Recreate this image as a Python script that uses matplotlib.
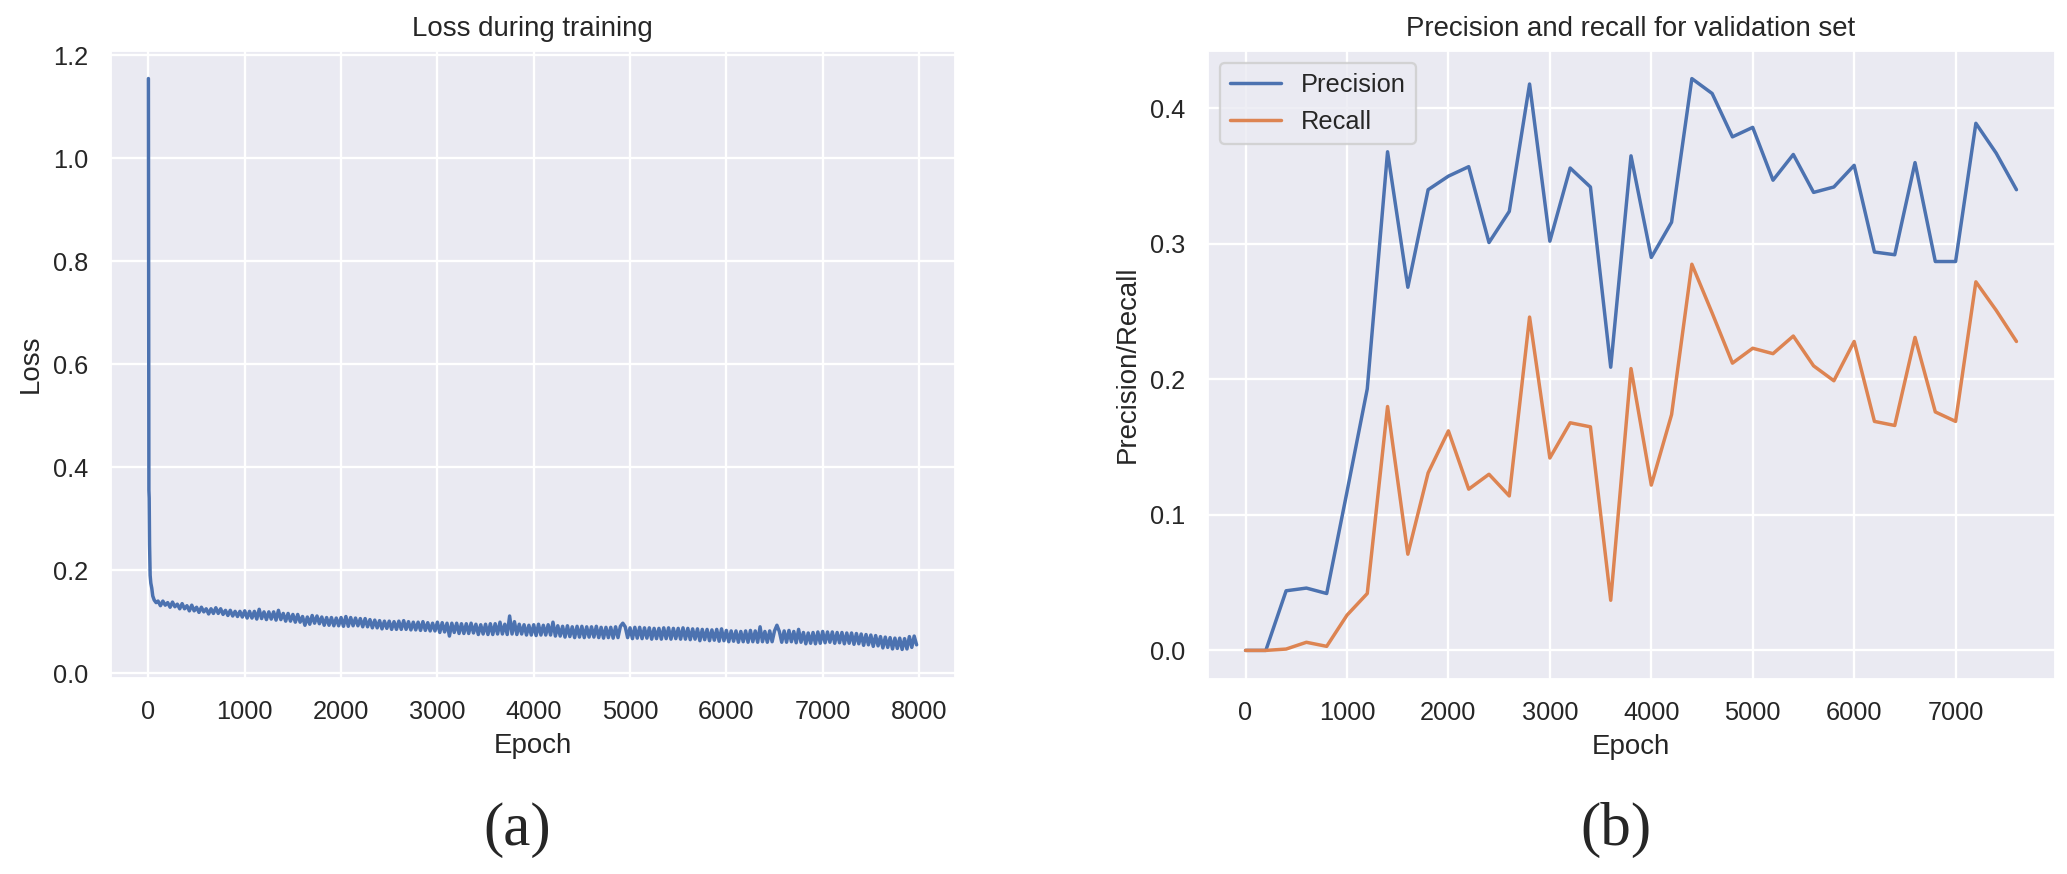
import matplotlib
matplotlib.use('Agg')
import matplotlib.pyplot as plt
import seaborn as sns

# ---- data ----
# (a) training loss: steep drop at the start, then a noisy slow decline
loss_epochs = [0, 3, 5, 8, 12, 18, 25, 35, 45, 60, 80] + list(range(100, 8000, 25))
loss_values = [
    1.155, 0.600, 0.355, 0.340, 0.250, 0.190, 0.175, 0.165, 0.150, 0.142, 0.137,
    .140, .131, .140, .132, .137, .128, .138, .129, .134, .125, .135, .125,
    .131, .121, .132, .121, .128, .118, .128, .119, .125, .115, .125, .116,
    .127, .116, .125, .114, .122, .112, .122, .111, .120, .110, .120, .109,
    .121, .107, .120, .107, .120, .105, .124, .106, .119, .104, .119, .105,
    .119, .103, .122, .104, .116, .101, .116, .101, .114, .099, .114, .099,
    .110, .093, .109, .095, .112, .097, .111, .096, .109, .093, .108, .093,
    .108, .092, .107, .092, .108, .091, .110, .091, .108, .092, .107, .092,
    .106, .090, .106, .090, .104, .088, .103, .088, .102, .086, .101, .087,
    .101, .085, .100, .085, .101, .085, .102, .085, .100, .084, .099, .084,
    .099, .083, .100, .083, .098, .082, .097, .082, .099, .079, .098, .080,
    .097, .072, .097, .079, .097, .077, .096, .077, .096, .077, .097, .078,
    .095, .075, .094, .076, .095, .075, .096, .075, .096, .076, .099, .076,
    .095, .075, .111, .076, .100, .075, .095, .076, .094, .074, .093, .074,
    .094, .073, .095, .074, .093, .074, .094, .074, .099, .072, .092, .072,
    .091, .070, .092, .071, .090, .069, .091, .070, .091, .069, .090, .070,
    .090, .070, .091, .069, .089, .068, .089, .069, .089, .068, .090, .069,
    .091, .097, .090, .069, .088, .067, .089, .068, .089, .067, .088, .068,
    .088, .066, .087, .067, .087, .066, .088, .067, .088, .066, .087, .067,
    .087, .066, .088, .066, .087, .065, .086, .066, .086, .063, .085, .065,
    .085, .063, .084, .064, .085, .062, .086, .063, .083, .061, .082, .062,
    .082, .060, .081, .061, .082, .060, .083, .061, .082, .060, .090, .061,
    .081, .060, .082, .061, .082, .093, .081, .060, .082, .060, .083, .061,
    .081, .059, .085, .060, .079, .057, .078, .058, .079, .057, .080, .058,
    .081, .059, .080, .060, .080, .058, .079, .059, .079, .057, .078, .058,
    .078, .056, .077, .057, .076, .054, .075, .055, .074, .052, .073, .053,
    .071, .049, .070, .050, .069, .047, .068, .048, .068, .046, .067, .047,
    .071, .050, .072, .055,
]

# (b) validation precision / recall, evaluated every 200 epochs
val_epochs = list(range(0, 7800, 200))
precision = [0.000, 0.000, 0.044, 0.046, 0.042, 0.117, 0.193, 0.368, 0.268, 0.340,
             0.350, 0.357, 0.301, 0.324, 0.418, 0.302, 0.356, 0.342, 0.209, 0.365,
             0.290, 0.316, 0.422, 0.411, 0.379, 0.386, 0.347, 0.366, 0.338, 0.342,
             0.358, 0.294, 0.292, 0.360, 0.287, 0.287, 0.389, 0.367, 0.340]
recall = [0.000, 0.000, 0.001, 0.006, 0.003, 0.026, 0.042, 0.180, 0.071, 0.131,
          0.162, 0.119, 0.130, 0.114, 0.246, 0.142, 0.168, 0.165, 0.037, 0.208,
          0.122, 0.174, 0.285, 0.249, 0.212, 0.223, 0.219, 0.232, 0.210, 0.199,
          0.228, 0.169, 0.166, 0.231, 0.176, 0.169, 0.272, 0.251, 0.228]

# ---- style: plain seaborn notebook look, rendered at a high dpi ----
sns.set_theme(style='darkgrid')
plt.rcParams['font.family'] = ['Liberation Sans', 'DejaVu Sans']

W, H = 2067, 874
DPI = 166
fig = plt.figure(figsize=(W / DPI, H / DPI), dpi=DPI)


def box(left, right, top, bottom):
    # pixel edges -> figure fraction
    return [left / W, 1 - bottom / H, (right - left) / W, (bottom - top) / H]


ax1 = fig.add_axes(box(110, 955, 50, 678))
ax2 = fig.add_axes(box(1207, 2055, 50, 679))

# left: loss
ax1.plot(loss_epochs, loss_values, color='#4C72B0')
ax1.set_title("Loss during training")
ax1.set_xlabel("Epoch")
ax1.set_ylabel("Loss")

# right: precision / recall
ax2.plot(val_epochs, precision, color='#4C72B0', label='Precision')
ax2.plot(val_epochs, recall, color='#DD8452', label='Recall')
ax2.set_title("Precision and recall for validation set")
ax2.set_xlabel("Epoch")
ax2.set_ylabel("Precision/Recall")
ax2.legend(loc='upper left')

# panel captions
fig.text(517 / W, 1 - 830 / H, "(a)", ha='center', va='center',
         family=['Liberation Serif', 'DejaVu Serif'], fontsize=26.5)
fig.text(1616 / W, 1 - 830 / H, "(b)", ha='center', va='center',
         family=['Liberation Serif', 'DejaVu Serif'], fontsize=26.5)

fig.savefig('out.png', dpi=DPI)
plt.close(fig)
